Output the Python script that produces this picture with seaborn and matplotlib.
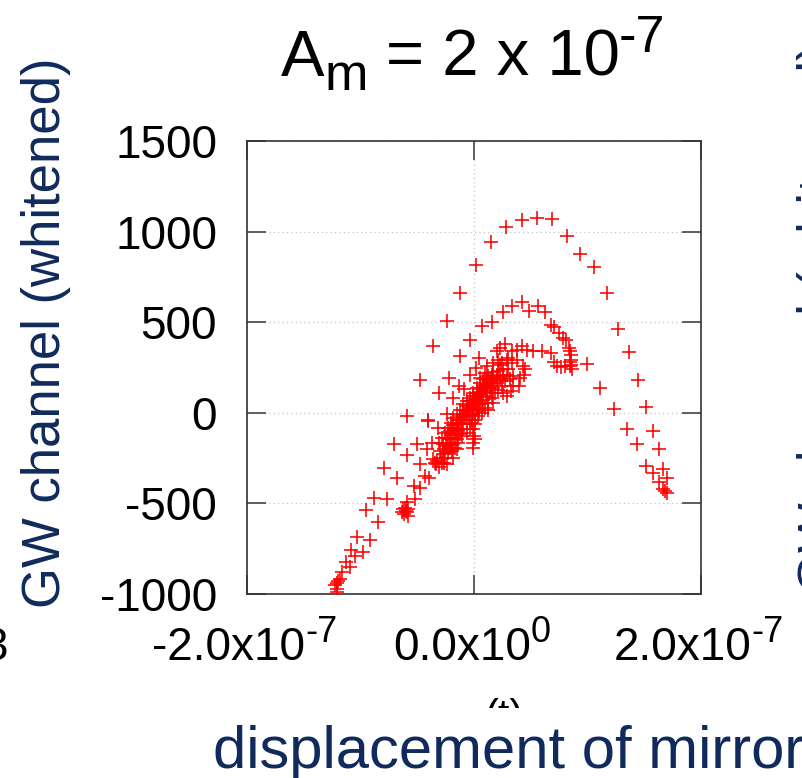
import matplotlib
matplotlib.use("Agg")
import numpy as np
import pandas as pd
import seaborn as sns
import matplotlib.pyplot as plt
from matplotlib.transforms import IdentityTransform, Bbox

# ---- data: mirror displacement (units of 1e-7) vs whitened GW channel ----
disp_e7 = [
    # outer arc
    -0.123, 0.015, 0.150, 0.282, 0.420, 0.552, 0.684, 0.816, 0.934, 1.060,
    1.169, 1.266, 1.363, 1.442, 1.515, 1.580, 1.633, 1.662, 1.703, 1.633,
    1.668, 1.698, 1.683, 1.515, 1.580,
    1.110, 1.236, 1.345, 1.433,
    # lower-left branch
    -0.241, -0.364, -0.476, -0.593, -0.702, -0.793, -0.878, -0.769, -0.954, -0.849,
    -1.028, -0.916, -1.084, -0.981, -1.048, -1.128, -1.093, -1.166, -1.195, -1.204,
    -1.225, -1.181, -1.210, -1.210,
    # scattered left
    -0.220, -0.311, -0.408, -0.320, -0.502, -0.417, -0.367, -0.593, -0.476, -0.681,
    -0.432, -0.396, -0.476, -0.529, -0.520, -0.593, -0.623, -0.593, -0.637, -0.608,
    -0.579, -0.600, -0.615, -0.585,
    -0.129, -0.088, -0.182, -0.241, -0.402,
    # middle arc
    -0.035, 0.047, 0.073, 0.162, 0.253, 0.332, 0.420, 0.488, 0.561, 0.626,
    0.678, 0.705, 0.752, 0.781, 0.811, 0.846, 0.855, 0.846, 0.861, 0.993,
    0.802, 0.728, 0.705, 0.767, -0.123, 0.840, 0.852, 0.843, 0.858,
    # inner loop
    0.200, 0.273, 0.229, 0.332, 0.376, 0.420, 0.464, 0.517, 0.596, 0.675,
    0.435, 0.449, 0.443, 0.405, 0.400, 0.347, 0.302, 0.288, 0.332, 0.376,
    -0.035, 0.018, 0.112, 0.170, 0.214, 0.229, 0.300, 0.244,
    # dense core
    -0.335, -0.323, -0.308, -0.291, -0.276, -0.300, -0.264, -0.247, -0.270, -0.235,
    -0.217, -0.241, -0.206, -0.188, -0.211, -0.176, -0.159, -0.182, -0.147, -0.129,
    -0.153, -0.117, -0.100, -0.123, -0.088, -0.070, -0.094, -0.059, -0.041, -0.065,
    -0.029, -0.012, -0.035, 0.000, 0.018, -0.006, 0.029, 0.047, 0.023, 0.059,
    0.076, 0.053, 0.088, 0.106, 0.082, 0.117, 0.135, 0.112, 0.147, 0.164,
    0.185, 0.206, 0.229, 0.253, 0.200, 0.273, 0.244, 0.170, 0.141, 0.112,
    0.082, 0.053, 0.023, -0.006, -0.035, -0.065, -0.094, -0.123, -0.153, -0.182,
    -0.211, -0.226, -0.256, -0.285, -0.021, 0.009, 0.038, 0.068, 0.097, 0.126,
    0.156, 0.185, 0.214, -0.006, 0.000, -0.006, -0.012, 0.009, -0.035, -0.065,
    -0.109, -0.138, -0.167, -0.197, -0.006, -0.035, -0.065, -0.094, -0.123, -0.153,
    -0.182, -0.206, -0.226, -0.256, -0.285, -0.305, 0.023, 0.053, 0.082, 0.126,
    0.156, 0.053, 0.097, 0.170, 0.214, 0.258, 0.288, 0.317, 0.347, 0.323,
    0.288, 0.258, 0.170, 0.126, -0.153, -0.182, -0.264, -0.241, -0.358, -0.344,
    -0.020, 0.015, 0.040, -0.050, 0.060, 0.095, -0.080, 0.005, 0.030, -0.045,
    0.070, 0.110, 0.150, -0.110, -0.140, 0.010, -0.015, 0.045, -0.170, -0.200,
]
gw_whitened = [
    661, 817, 941, 1028, 1064, 1077, 1068, 973, 875, 807,
    661, 462, 334, 180, 33, -101, -202, -312, -358, -382,
    -422, -440, -431, -294, -330,
    138, 22, -88, -171,
    505, 367, 180, -15, -174, -303, -472, -477, -538, -602,
    -684, -701, -756, -767, -789, -826, -850, -881, -927, -940,
    -951, -918, -973, -987,
    193, 110, -42, -83, -174, -202, -165, -235, -284, -358,
    -349, -358, -413, -404, -477, -492, -532, -550, -547, -523,
    -569, -540, -556, -530,
    150, 132, 83, -4, -46,
    400, 303, 477, 499, 554, 591, 609, 560, 591, 554,
    486, 473, 440, 413, 400, 339, 294, 257, 242, 272,
    257, 257, 281, 253, 316, 360, 320, 280, 265,
    339, 382, 358, 339, 345, 367, 349, 339, 339, 330,
    257, 239, 211, 193, 147, 202, 239, 294, 275, 294,
    211, 248, 257, 275, 294, 266, 305, 275,
    -284, -266, -297, -248, -229, -211, -202, -184, -174, -165,
    -147, -138, -125, -110, -101, -92, -83, -70, -64, -55,
    -40, -37, -22, -15, -9, 4, 15, 18, 28, 40,
    44, 55, 64, 70, 77, 92, 92, 101, 110, 114,
    125, 132, 138, 147, 156, 161, 169, 180, 184, 193,
    165, 180, 187, 198, 202, 174, 147, 138, 110, 92,
    73, 46, 18, -9, -37, -64, -92, -119, -147, -174,
    -193, -220, -248, -275, -55, -37, -18, 0, 28, 55,
    83, 110, 128, -92, -128, -165, -193, -147, -92, -110,
    -128, -165, -193, -211, 110, 83, 64, 46, 18, -4,
    -28, -55, -83, -110, -138, -165, 138, 165, 184, 202,
    211, 193, 220, 224, 229, 239, 211, 184, 147, 119,
    92, 110, 55, 18, -202, -248, -275, -284, -257, -275,
    35, 60, 85, 10, 100, 140, -20, 50, 20, -10,
    70, 120, 150, -60, -100, -60, -40, 5, -140, -180,
]

x_tick_vals = [-2e-7, 0.0, 2e-7]
x_tick_mant = ["-2.0", "0.0", "2.0"]
x_tick_exp = ["-7", "0", "-7"]
y_tick_vals = [-1000, -500, 0, 500, 1000, 1500]

title_parts = ["A", "m", "= 2 x 10", "-7"]
y_label = "GW channel (whitened)"
x_label = "displacement of mirror"

NAVY = "#102a5c"
W_PX, H_PX = 802, 778

df = pd.DataFrame({"disp": np.array(disp_e7) * 1e-7, "gw": gw_whitened})

sns.set_theme(style="white")
plt.rcParams["font.family"] = ["Liberation Sans", "DejaVu Sans"]

fig = plt.figure(figsize=(W_PX / 100, H_PX / 100), dpi=100)
ax = fig.add_axes([247 / W_PX, 1 - 594 / H_PX, 454 / W_PX, 453 / H_PX])

sns.scatterplot(data=df, x="disp", y="gw", marker="+", color="#ff0000",
                s=100, linewidth=1.15, ax=ax, legend=False, zorder=3)

ax.set_xlim(-2e-7, 2e-7)
ax.set_ylim(-1000, 1500)
ax.set_xticks(x_tick_vals)
ax.set_xticklabels([""] * len(x_tick_vals))
ax.set_yticks(y_tick_vals)
ax.set_yticklabels([str(v) for v in y_tick_vals])
ax.set_xlabel("")
ax.set_ylabel("")
ax.grid(True, linestyle=(0, (1, 2.5)), color="#c4c4c4", linewidth=0.9)
ax.set_axisbelow(True)
ax.tick_params(axis="both", which="major", direction="in", length=14, width=1.2,
               color="#444444", top=True, right=True, bottom=True, left=True,
               labelsize=33, pad=21.6, labelcolor="black")
for sp in ax.spines.values():
    sp.set_color("#333333")
    sp.set_linewidth(1.2)

PX = IdentityTransform()
renderer = fig.canvas.get_renderer()


def rich_text(pieces, x, y_base, center=True, color="black"):
    """Lay out (text, size, gap_px, rise_px) pieces on one baseline."""
    arts, widths = [], []
    for s, size, gap, rise in pieces:
        t = fig.text(0, 0, s, fontsize=size, color=color, transform=PX,
                     ha="left", va="baseline")
        widths.append(t.get_window_extent(renderer).width)
        arts.append(t)
    total = sum(widths) + sum(p[2] for p in pieces)
    x0 = x - total / 2 if center else x
    for t, w, (s, size, gap, rise) in zip(arts, widths, pieces):
        x0 += gap
        t.set_position((x0, H_PX - y_base + rise))
        x0 += w
    return arts


# title with subscript and superscript
rich_text([(title_parts[0], 47, 0, 0), (title_parts[1], 37.6, 0, -14),
           (title_parts[2], 47, 18, 0), (title_parts[3], 37.6, -1, 24)],
          473, 76)

# x tick labels in mantissa x 10^exp form
for v, m, e in zip(x_tick_vals, x_tick_mant, x_tick_exp):
    xd = ax.transData.transform((v, 0))[0]
    rich_text([(m + "x10", 33, 0, 0), (e, 26, 0, 18)], xd - 2, 660)

# axis labels
fig.text(46, H_PX - 333, y_label, transform=PX, rotation=90, ha="center",
         va="center", fontsize=38, color=NAVY)
fig.text(213, H_PX - 768, x_label, transform=PX, ha="left", va="baseline",
         fontsize=43, color=NAVY)

# neighbouring panels' text running in from the edges
fig.text(8, H_PX - 660, "3", transform=PX, ha="right", va="baseline",
         fontsize=33, color="black")
fig.text(797, H_PX - 318, y_label, transform=PX, rotation=90, ha="left",
         va="center", fontsize=38, color=NAVY)
t_cut = fig.text(504, H_PX - 729, "(t)", transform=PX, ha="center",
                 va="baseline", fontsize=30, color="black")
t_cut.set_clip_box(Bbox.from_extents(470, H_PX - 708, 540, H_PX - 698))
t_cut.set_clip_on(True)

fig.savefig("out.png", dpi=100)
